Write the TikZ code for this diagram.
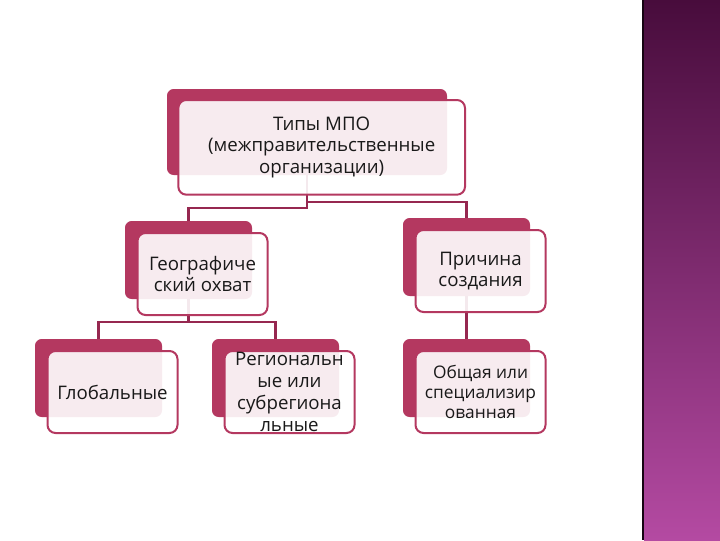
\documentclass[tikz,border=0pt]{standalone}
\usepackage{fontspec}
\setmainfont{Open Sans}
\usetikzlibrary{positioning}
\definecolor{mpoRed}{RGB}{180,56,96}
\definecolor{mpoLine}{RGB}{150,40,80}
\definecolor{bandTop}{RGB}{72,12,60}
\definecolor{bandBottom}{RGB}{180,74,162}
\tikzstyle{backBox} = [shape=rectangle, fill=mpoRed, rounded corners=5pt,
	minimum width=95.25pt, minimum height=58.5pt, inner sep=0pt]
\tikzstyle{frontBox} = [shape=rectangle, draw=mpoRed, line width=1.5pt, fill=white,
	fill opacity=0.9, text opacity=1, text=black!90, rounded corners=6pt, align=center,
	minimum width=97.5pt, minimum height=61.5pt, inner sep=0pt,
	font=\fontsize{14}{16.3}\selectfont]
\tikzstyle{TopBack} = [backBox, minimum width=210pt, minimum height=64.5pt]
\tikzstyle{TopFront} = [frontBox, minimum width=215pt, minimum height=71pt]
\tikzstyle{normalLine} = [line width=1.8pt, draw=mpoLine]

\begin{document}
\begin{tikzpicture}[x=0.75pt, y=-0.75pt]
  \useasboundingbox (0,0) rectangle (720,540);
  \shade[top color=bandTop, bottom color=bandBottom] (644,0) rectangle (720,540);
  \draw[line width=1.5pt, draw=black!70!bandTop] (643,0) -- (643,540);

  \node (TYPESbk) at (307,132) [TopBack] {};
  \node (GEObk) at (188.5,260) [backBox] {};
  \node (CAUSEbk) at (466.5,257) [backBox] {};
  \node (GLOBbk) at (98.5,378) [backBox] {};
  \node (REGbk) at (275.5,378) [backBox] {};
  \node (GENbk) at (466.5,378) [backBox] {};

  \draw [normalLine] (TYPESbk.south) -- ++(0,33) -| (GEObk.north);
  \draw [normalLine] (TYPESbk.south) -- ++(0,27) -| (CAUSEbk.north);
  \draw [normalLine] (GEObk.south) -- ++(0,23) -| (GLOBbk.north);
  \draw [normalLine] (GEObk.south) -- ++(0,23) -| (REGbk.north);
  \draw [normalLine] (CAUSEbk.south) -- (GENbk.north);

  \node (TYPES) at (TYPESbk) [TopFront, xshift=11pt, yshift=-11.5pt] {Типы МПО\\(межправительственные\\организации)};
  \node (GEO) at (GEObk) [frontBox, xshift=10.5pt, yshift=-10.5pt] {Географиче\\ский охват};
  \node (CAUSE) at (CAUSEbk) [frontBox, xshift=10.5pt, yshift=-10.5pt] {Причина\\создания};
  \node (GLOB) at (GLOBbk) [frontBox, xshift=10.5pt, yshift=-10.5pt] {Глобальные};
  \node (REG) at (REGbk) [frontBox, xshift=10.5pt, yshift=-10.5pt] {Региональн\\ые или\\субрегиона\\льные};
  \node (GEN) at (GENbk) [frontBox, xshift=10.5pt, yshift=-10.5pt,
    font=\fontsize{13}{15}\selectfont] {Общая или\\специализир\\ованная};
\end{tikzpicture}
\end{document}
